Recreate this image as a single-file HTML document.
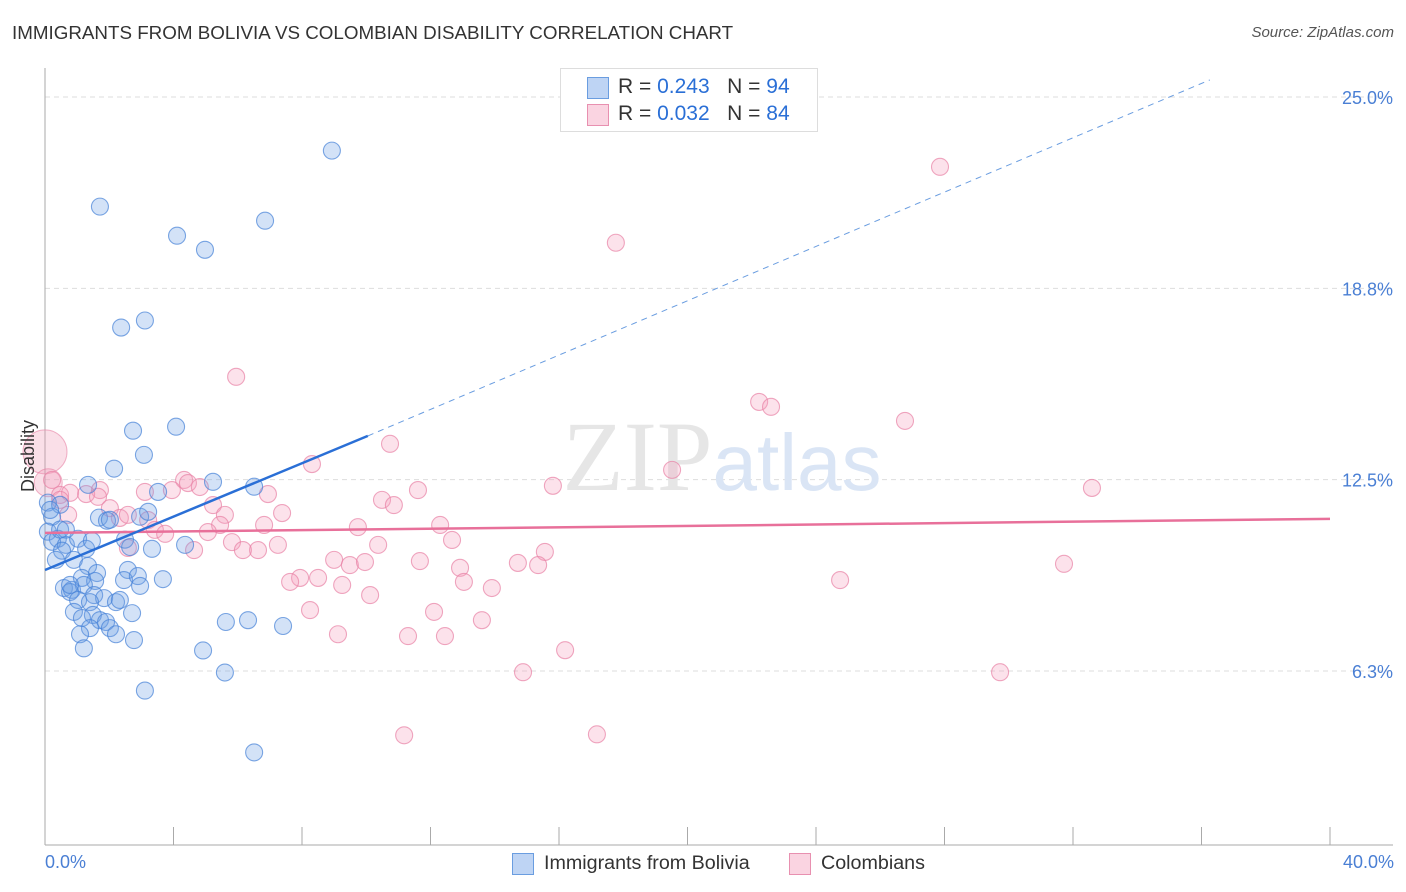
<!DOCTYPE html>
<html><head><meta charset="utf-8"><style>
body{margin:0;background:#fff;font-family:"Liberation Sans",sans-serif;}
#wrap{position:relative;width:1406px;height:892px;overflow:hidden;}
.t{position:absolute;white-space:nowrap;}
</style></head><body>
<div id="wrap">
<div class="t" style="left:12px;top:22px;font-size:18.8px;color:#333;">IMMIGRANTS FROM BOLIVIA VS COLOMBIAN DISABILITY CORRELATION CHART</div>
<div class="t" style="right:12px;top:24px;font-size:15px;color:#555;font-style:italic;">Source: ZipAtlas.com</div>
<svg id="svg" width="1406" height="892" style="position:absolute;left:0;top:0"></svg>
</div>
<script>
const yTicks=[25.0,18.8,12.5,6.3];
const yTickVals=[25,18.75,12.5,6.25];
const xTickVals=[0,4,8,12,16,20,24,28,32,36,40];
const blueX=[8.93,1.71,6.85,4.11,4.98,2.37,3.11,2.74,4.08,3.08,2.15,1.34,3.52,6.51,5.23,0.09,0.47,0.22,1.68,1.93,2.96,3.21,0.09,0.40,0.22,0.65,1.03,2.49,3.33,0.53,1.28,0.34,0.90,1.34,2.58,1.62,1.15,1.56,2.46,2.89,3.67,2.96,0.59,0.84,1.21,0.78,1.53,1.84,2.21,1.03,1.40,0.90,1.49,2.71,1.15,1.71,1.90,2.02,1.40,2.21,1.09,2.77,1.21,5.63,6.32,7.41,4.36,4.92,5.60,3.11,6.51,2.65,0.78,2.02,0.47,0.16,0.65,1.46,2.33];
const blueY=[23.25,21.42,20.96,20.47,20.01,17.47,17.70,14.10,14.23,13.31,12.86,12.33,12.10,12.27,12.43,11.75,11.68,11.29,11.26,11.16,11.29,11.45,10.80,10.57,10.47,10.37,10.57,10.54,10.24,10.18,10.24,9.88,9.88,9.68,9.55,9.45,9.29,9.19,9.22,9.35,9.25,9.03,8.96,8.90,9.06,8.83,8.73,8.63,8.50,8.57,8.50,8.18,8.08,8.14,7.98,7.91,7.85,7.65,7.65,7.45,7.45,7.26,6.99,7.85,7.91,7.72,10.37,6.92,6.20,5.61,3.59,10.30,9.06,11.19,10.87,11.51,10.87,10.50,8.57];
const pinkX=[27.86,17.77,5.95,22.23,22.60,26.77,10.74,8.31,19.52,32.59,15.81,4.33,4.45,4.82,3.95,3.11,1.71,0.47,0.78,1.28,1.65,6.94,11.61,10.49,10.86,5.23,5.60,7.38,2.02,2.33,2.58,3.21,3.42,3.74,5.45,6.82,9.74,12.30,5.07,5.82,6.63,7.25,12.67,2.58,4.64,6.16,10.37,15.56,9.00,9.49,9.96,11.67,12.92,14.72,15.35,31.72,7.94,8.50,7.63,9.25,10.12,13.91,13.04,24.75,8.25,12.11,13.60,9.12,11.30,12.45,16.19,14.88,29.73,11.18,17.18,0.72,0.22,0.47];
const pinkY=[22.72,20.24,15.86,15.04,14.88,14.42,13.67,13.01,12.82,12.23,12.30,12.49,12.39,12.26,12.16,12.10,12.16,12.00,12.07,12.03,11.94,12.03,12.16,11.84,11.67,11.67,11.35,11.41,11.57,11.25,11.35,11.18,10.86,10.73,11.02,11.02,10.95,11.02,10.79,10.46,10.20,10.37,10.53,10.27,10.20,10.20,10.37,10.14,9.88,9.71,9.81,9.84,9.62,9.78,9.71,9.75,9.29,9.29,9.16,9.06,8.73,8.96,9.16,9.22,8.24,8.18,7.91,7.45,7.39,7.39,6.93,6.21,6.21,4.15,4.18,11.35,12.49,11.84];
const bigPinkX=[0,0.1];
const bigPinkY=[13.41,12.4];
const bigPinkR=[22,14];
const blueLineX=[0,10.05,36.26];
const blueLineY=[9.55,13.93,25.56];
const pinkLineX=[0,40];
const pinkLineY=[10.76,11.22];

const X=v=>45+v*32.125;
const Y=v=>862.3-v*30.61;
const svg=document.getElementById('svg');
const NS='http://www.w3.org/2000/svg';
function mk(tag,attrs){const e=document.createElementNS(NS,tag);for(const k in attrs)e.setAttribute(k,attrs[k]);svg.appendChild(e);return e;}

yTickVals.forEach((v,i)=>{
  const g=mk('line',{x1:45,x2:1393,y1:Y(v),y2:Y(v),stroke:'#ddd','stroke-dasharray':'5,4'});
  
  
  const t=mk('text',{x:1393,y:Y(v)+7,'text-anchor':'end','font-size':18,fill:'#4a7fd4','font-family':'Liberation Sans'});
  t.textContent=yTicks[i].toFixed(1)+'%';
  
  
});
const ax=mk('line',{x1:45,x2:45,y1:68,y2:845,stroke:'#aaa'});


const bx=mk('line',{x1:45,x2:1393,y1:845,y2:845,stroke:'#aaa'});


xTickVals.forEach(v=>{
  const l=mk('line',{x1:X(v),x2:X(v),y1:827,y2:845,stroke:'#aaa'});
  
  
});
const wm=mk('text',{x:722,y:490,'text-anchor':'middle','font-size':100,fill:'#e6e6e6','font-family':'Liberation Serif'});
wm.innerHTML='ZIP<tspan fill="#dae5f5" font-family="Liberation Sans" font-size="80">atlas</tspan>';



bigPinkX.forEach((v,i)=>{
  const c=mk('circle',{cx:X(v),cy:Y(bigPinkY[i]),r:bigPinkR[i],fill:'rgba(240,150,180,0.3)',stroke:'rgba(232,130,165,0.6)'});
  
  
});
pinkX.forEach((v,i)=>{
  const c=mk('circle',{cx:X(v),cy:Y(pinkY[i]),r:8.5,fill:'rgba(244,160,188,0.3)',stroke:'rgba(232,130,165,0.7)','stroke-width':1.1});
  
  
});
blueX.forEach((v,i)=>{
  const c=mk('circle',{cx:X(v),cy:Y(blueY[i]),r:8.5,fill:'rgba(110,160,230,0.3)',stroke:'rgba(70,130,215,0.7)','stroke-width':1.1});
  
  
});
const pl=mk('line',{x1:X(pinkLineX[0]),y1:Y(pinkLineY[0]),x2:X(pinkLineX[1]),y2:Y(pinkLineY[1]),stroke:'#e8709a','stroke-width':2.5});


const bl=mk('line',{x1:X(blueLineX[0]),y1:Y(blueLineY[0]),x2:X(blueLineX[1]),y2:Y(blueLineY[1]),stroke:'#2a6fd6','stroke-width':2.5});


const bd=mk('line',{x1:X(blueLineX[1]),y1:Y(blueLineY[1]),x2:X(blueLineX[2]),y2:Y(blueLineY[2]),stroke:'#6a9de0','stroke-width':1,'stroke-dasharray':'6,5'});


</script>
<div class="t" style="left:18px;top:412px;transform-origin:0 0;transform:rotate(-90deg) translate(-80px,0);font-size:18px;color:#333;">Disability</div>
<div class="t" style="left:45px;top:852px;font-size:18px;color:#4a7fd4;">0.0%</div>
<div class="t" style="right:12px;top:852px;font-size:18px;color:#4a7fd4;">40.0%</div>
<div style="position:absolute;left:560px;top:68px;width:256px;height:62px;border:1px solid #ddd;background:#fff;font-size:21px;color:#333;">
 <div style="position:absolute;left:26px;top:8px;width:20px;height:20px;background:rgba(110,160,230,0.45);border:1px solid #6a9de0;"></div>
 <div class="t" style="left:57px;top:6px;">R = <span style="color:#2a6fd6">0.243</span>&nbsp;&nbsp;&nbsp;N = <span style="color:#2a6fd6">94</span></div>
 <div style="position:absolute;left:26px;top:35px;width:20px;height:20px;background:rgba(244,160,188,0.45);border:1px solid #e890b0;"></div>
 <div class="t" style="left:57px;top:33px;">R = <span style="color:#2a6fd6">0.032</span>&nbsp;&nbsp;&nbsp;N = <span style="color:#2a6fd6">84</span></div>
</div>
<div style="position:absolute;left:512px;top:853px;width:20px;height:20px;background:rgba(110,160,230,0.45);border:1px solid #6a9de0;"></div>
<div class="t" style="left:544px;top:852px;font-size:19.7px;color:#333;">Immigrants from Bolivia</div>
<div style="position:absolute;left:789px;top:853px;width:20px;height:20px;background:rgba(244,160,188,0.45);border:1px solid #e890b0;"></div>
<div class="t" style="left:821px;top:852px;font-size:19.7px;color:#333;">Colombians</div>
</body></html>
